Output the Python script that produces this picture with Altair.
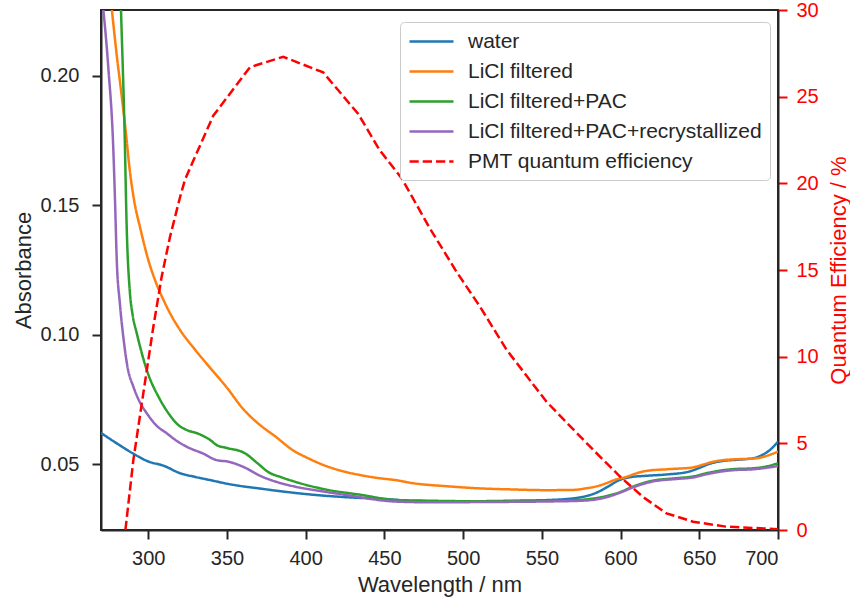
import altair as alt
import pandas as pd

# Absorbance spectra (wavelength in nm, absorbance)
water_wl = [270, 280, 290, 300, 310, 320, 330, 340, 350, 375, 400, 425, 450, 470, 500, 530,
            555, 575, 585, 592, 600, 607, 615, 630, 643, 650, 657, 665, 675, 684, 690, 695, 700]
water_abs = [0.0620, 0.0580, 0.0542, 0.0510, 0.0493, 0.0465, 0.0450, 0.0437, 0.0424, 0.0402,
             0.0384, 0.0372, 0.0365, 0.0357, 0.0356, 0.0358, 0.0361, 0.0372, 0.0390, 0.0413,
             0.0440, 0.0450, 0.0454, 0.0460, 0.0470, 0.0485, 0.0502, 0.0512, 0.0517, 0.0522,
             0.0535, 0.0555, 0.0586]

licl_wl = [270, 274, 277, 280, 283, 286, 288, 291, 295, 300, 305, 310, 315, 320, 330, 340, 350,
           360, 372, 380, 393, 400, 414, 425, 435, 447, 457, 468, 490, 510, 530, 553, 570, 578,
           585, 591, 597, 604, 610, 617, 630, 646, 652, 659, 665, 672, 686, 692, 700]
licl_abs = [0.268, 0.243, 0.225, 0.208, 0.193, 0.177, 0.165, 0.152, 0.141, 0.129, 0.120, 0.113,
            0.107, 0.102, 0.094, 0.0867, 0.0795, 0.0715, 0.0646, 0.0610, 0.0549, 0.0527, 0.0490,
            0.0470, 0.0457, 0.0445, 0.0438, 0.0426, 0.0414, 0.0406, 0.0402, 0.0399, 0.0400,
            0.0406, 0.0414, 0.0426, 0.0440, 0.0451, 0.0464, 0.0474, 0.0480, 0.0487, 0.0497,
            0.0509, 0.0515, 0.0518, 0.0522, 0.0530, 0.0548]

pac_wl = [270, 275, 280, 282.7, 285, 286.3, 288.4, 290, 292.7, 299, 307.5, 313, 318, 325, 331,
          340, 343.5, 350, 361, 370, 376, 385, 393, 414, 435, 457, 480, 510, 550, 575, 590, 600,
          608, 620, 635, 646, 655, 665, 671, 685, 692, 700]
pac_abs = [0.480, 0.380, 0.280, 0.2255, 0.178, 0.142, 0.116, 0.108, 0.1006, 0.0865, 0.0749,
           0.0695, 0.0657, 0.0630, 0.0619, 0.0590, 0.0573, 0.0562, 0.0543, 0.0500, 0.0470,
           0.0448, 0.0432, 0.0400, 0.0381, 0.0361, 0.0358, 0.0356, 0.0358, 0.0362, 0.0375,
           0.0392, 0.0413, 0.0435, 0.0445, 0.0452, 0.0465, 0.0476, 0.0480, 0.0484, 0.0490,
           0.0503]

recr_wl = [270, 271.5, 274.6, 277.8, 278.9, 280, 282, 284.2, 287, 290.5, 295, 299, 305, 311.7,
           318, 324.4, 335, 343.5, 351, 360, 372, 382, 393, 410, 425, 457, 480, 510, 550, 575,
           590, 600, 608, 620, 635, 646, 655, 665, 671, 685, 692, 700]
recr_abs = [0.234, 0.2255, 0.2036, 0.172, 0.152, 0.129, 0.112, 0.099, 0.087, 0.080, 0.0735,
            0.0697, 0.0650, 0.0619, 0.0590, 0.0567, 0.0540, 0.0515, 0.0509, 0.0490, 0.0452,
            0.0430, 0.0413, 0.0395, 0.0381, 0.0355, 0.0352, 0.0353, 0.0355, 0.0358, 0.0370,
            0.0390, 0.0410, 0.0432, 0.0442, 0.0448, 0.0461, 0.0472, 0.0476, 0.0480, 0.0485,
            0.0492]

# PMT quantum efficiency (%)
qe_wl = [285.5, 290.5, 296.9, 303.2, 308.5, 313.8, 320.2, 323.3, 328.6, 341.3, 364.6, 385.7,
         411.1, 433.4, 447.1, 460.9, 478.9, 495.8, 510.6, 527.6, 544.5, 553.0, 565.7, 570.0,
         584.0, 599.5, 614.3, 629.2, 646.1, 667.3, 700]
qe_val = [0.0, 4.0, 7.9, 11.7, 14.6, 16.9, 19.2, 20.2, 21.3, 23.9, 26.7, 27.3, 26.4, 24.0, 21.9,
          20.3, 17.4, 14.9, 12.9, 10.4, 8.4, 7.4, 6.2, 5.8, 4.5, 3.1, 1.9, 0.96, 0.48, 0.19, 0.05]

series_names = ["water", "LiCl filtered", "LiCl filtered+PAC",
                "LiCl filtered+PAC+recrystallized", "PMT quantum efficiency"]
series_colors = ["#1f77b4", "#ff7f0e", "#2ca02c", "#9467bd", "#ff0000"]
series_dash = [[1, 0], [1, 0], [1, 0], [1, 0], [9.25, 4]]

frames = []
for name, wl, ab in zip(series_names[:4],
                        [water_wl, licl_wl, pac_wl, recr_wl],
                        [water_abs, licl_abs, pac_abs, recr_abs]):
    frames.append(pd.DataFrame({"wl": wl, "value": ab, "series": name,
                                "order": range(len(wl))}))
abs_df = pd.concat(frames, ignore_index=True)
qe_df = pd.DataFrame({"wl": qe_wl, "value": qe_val, "series": series_names[4],
                      "order": range(len(qe_wl))})

FONT = "Liberation Sans"
INK = "#262626"

color = alt.Color("series:N", scale=alt.Scale(domain=series_names, range=series_colors),
                  sort=series_names, title=None)
dash = alt.StrokeDash("series:N", scale=alt.Scale(domain=series_names, range=series_dash),
                      sort=series_names, title=None)

x_enc = alt.X("wl:Q", scale=alt.Scale(domain=[270, 700], nice=False, zero=False),
              axis=alt.Axis(title="Wavelength / nm", values=list(range(300, 701, 50)),
                            titlePadding=6))

absorb = alt.Chart(abs_df).mark_line(clip=True, strokeWidth=2.5, interpolate="monotone").encode(
    x=x_enc,
    y=alt.Y("value:Q", scale=alt.Scale(domain=[0.0245, 0.2255], nice=False, zero=False),
            axis=alt.Axis(title="Absorbance", values=[0.05, 0.10, 0.15, 0.20], format=".2f",
                          labelPadding=13, titlePadding=5)),
    color=color,
    strokeDash=dash,
    order="order:Q",
)

qe = alt.Chart(qe_df).mark_line(clip=True, strokeWidth=2.5).encode(
    x=x_enc,
    y=alt.Y("value:Q", scale=alt.Scale(domain=[0, 30], nice=False),
            axis=alt.Axis(title="Quantum Efficiency / %", orient="right",
                          values=list(range(0, 31, 5)), labelColor="#ff0000",
                          tickColor="#ff0000", titleColor="#ff0000",
                          titleAngle=270, titleBaseline="top", titlePadding=10)),
    color=color,
    strokeDash=dash,
    order="order:Q",
)

# legend key: a long horizontal stroke starting at the symbol's left edge
legend_line = "M-1,0L3.4,0"

chart = alt.layer(absorb, qe).resolve_scale(y="independent").properties(
    width=677, height=520,
    autosize=alt.AutoSizeParams(type="none"),
    padding={"left": 101, "top": 10, "right": 72, "bottom": 71},
).configure_view(
    stroke=INK, strokeWidth=2
).configure_axis(
    grid=False, domainColor=INK, domainWidth=2, tickColor=INK, tickWidth=2, tickSize=9,
    labelFont=FONT, labelFontSize=20, labelColor=INK, labelPadding=9,
    titleFont=FONT, titleFontSize=22, titleFontWeight="normal", titleColor=INK,
).configure_legend(
    orient="none", legendX=299, legendY=12,
    fillColor="white", strokeColor="#cccccc", cornerRadius=4, padding=8,
    symbolType=legend_line, symbolSize=400, symbolStrokeWidth=2.5,
    labelFont=FONT, labelFontSize=21, labelColor=INK, labelOffset=37,
    rowPadding=8, labelLimit=400,
)

chart.save("out.html", embed_options={"renderer": "svg", "actions": False})
